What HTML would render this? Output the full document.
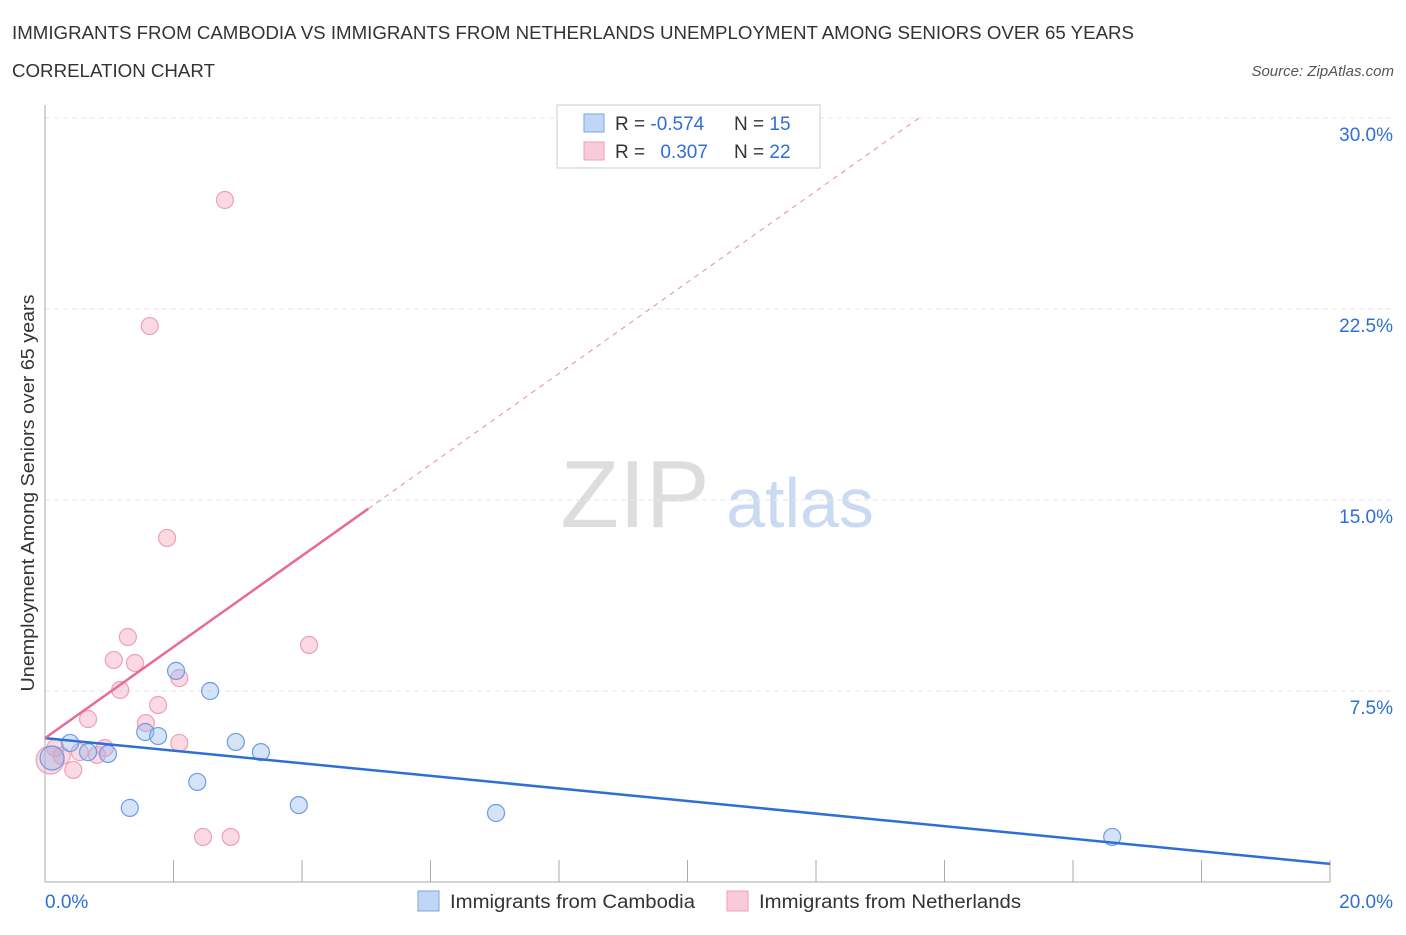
<!DOCTYPE html>
<html><head><meta charset="utf-8"><style>
body{margin:0;background:#fff;font-family:"Liberation Sans",sans-serif;}
svg text{font-family:"Liberation Sans",sans-serif;}
</style></head><body>
<svg id="chart" width="1406" height="930">
<text x="12" y="39" font-size="18" fill="#333" textLength="1122" lengthAdjust="spacingAndGlyphs">IMMIGRANTS FROM CAMBODIA VS IMMIGRANTS FROM NETHERLANDS UNEMPLOYMENT AMONG SENIORS OVER 65 YEARS</text>
<text x="12" y="77" font-size="18" fill="#333" textLength="203" lengthAdjust="spacingAndGlyphs">CORRELATION CHART</text>
<text x="1394" y="76" font-size="15" fill="#555" font-style="italic" text-anchor="end">Source: ZipAtlas.com</text>
<g>
<text x="635" y="527" font-size="96" fill="#ddd" font-family="Liberation Serif" text-anchor="middle">ZIP</text>
<text x="800" y="527" font-size="70" fill="#c9daf2" text-anchor="middle">atlas</text>
</g>
<g id="grid"></g><g id="axes"></g><g id="marks"></g>
<text x="-493" y="34" transform="rotate(-90)" font-size="18" fill="#333" text-anchor="middle" textLength="397" lengthAdjust="spacingAndGlyphs">Unemployment Among Seniors over 65 years</text>
<g>
<rect x="557" y="105" width="263" height="63" fill="#fff" stroke="#ccc"/>
<rect x="584" y="114" width="20" height="18" fill="#c0d6f5" stroke="#7aa6e6"/>
<rect x="584" y="142" width="20" height="18" fill="#f9cad8" stroke="#eda0b8"/>
<text x="615" y="130" font-size="19" fill="#333">R = <tspan fill="#2d6fd6">-0.574</tspan></text>
<text x="734" y="130" font-size="19" fill="#333">N = <tspan fill="#2d6fd6">15</tspan></text>
<text x="615" y="158" font-size="19" fill="#333">R = <tspan fill="#2d6fd6" dx="10">0.307</tspan></text>
<text x="734" y="158" font-size="19" fill="#333">N = <tspan fill="#2d6fd6">22</tspan></text>
</g>
<g>
<rect x="418" y="891" width="21" height="20" fill="#c0d6f5" stroke="#7aa6e6"/>
<text x="450" y="908" font-size="19" fill="#333" textLength="245" lengthAdjust="spacingAndGlyphs">Immigrants from Cambodia</text>
<rect x="727" y="891" width="21" height="20" fill="#f9cad8" stroke="#eda0b8"/>
<text x="759" y="908" font-size="19" fill="#333" textLength="262" lengthAdjust="spacingAndGlyphs">Immigrants from Netherlands</text>
</g>
</svg>
<script>
const yTicks=[7.5,15,22.5,30];
const yTickLabels=["7.5%","15.0%","22.5%","30.0%"];
const xTicks=[0,2,4,6,8,10,12,14,16,18,20];
const cambodiaX=[0.11,0.39,0.67,0.98,1.32,1.56,1.76,2.04,2.37,2.57,2.97,3.36,3.95,7.02,16.61];
const cambodiaY=[4.87,5.46,5.10,5.03,2.91,5.89,5.73,8.29,3.93,7.50,5.50,5.10,3.02,2.71,1.77];
const netherlandsX=[0.08,0.26,0.44,0.54,0.81,0.93,0.67,1.07,1.17,1.29,1.40,1.57,1.76,1.90,2.09,2.09,1.63,2.80,2.46,2.89,4.11,0.16];
const netherlandsY=[4.79,4.95,4.40,5.10,4.99,5.26,6.40,8.72,7.54,9.62,8.60,6.24,6.95,13.51,8.01,5.46,21.83,26.78,1.77,1.77,9.31,5.26];
const cambodiaTrend=[5.65,0.71]; // y at x=0 and x=20
const netherlandsTrend=[5.65,1.79]; // intercept, slope
const X=v=>45+v/20*1285, Y=v=>882-v/30*764;
const NS="http://www.w3.org/2000/svg";
function mk(p,t,a){const e=document.createElementNS(NS,t);for(const k in a)e.setAttribute(k,a[k]);p.appendChild(e);return e;}
const grid=document.getElementById('grid'),axes=document.getElementById('axes'),marks=document.getElementById('marks');
yTicks.forEach((v,i)=>{
 const l=mk(grid,'line',{x1:45,x2:1394,y1:Y(v),y2:Y(v),stroke:'#e6e6e6','stroke-dasharray':'5,4'});
 
 
 const t=mk(axes,'text',{x:1393,y:Y(v)+23,'font-size':19,fill:'#2d6fd6','text-anchor':'end'});
 t.textContent=yTickLabels[i];
 
 
});
const ya=mk(axes,'line',{x1:45,x2:45,y1:105,y2:882,stroke:'#aaa'});


const xa=mk(axes,'line',{x1:45,x2:1330,y1:882,y2:882,stroke:'#aaa'});


xTicks.forEach(v=>{
 const l=mk(axes,'line',{x1:X(v),x2:X(v),y1:860,y2:882,stroke:'#aaa'});
 
 
});
[["0.0%",45,'start'],["20.0%",1393,'end']].forEach(d=>{
 const t=mk(axes,'text',{x:d[1],y:908,'font-size':19,fill:'#2d6fd6','text-anchor':d[2]});
 t.textContent=d[0];
 
 
});
netherlandsX.forEach((x,i)=>{
 const c=mk(marks,'circle',{cx:X(x),cy:Y(netherlandsY[i]),r:i==0?14:8.5,fill:'rgba(244,160,186,0.4)',stroke:'#eda0b8','stroke-width':1.2});
 
 
});
cambodiaX.forEach((x,i)=>{
 const c=mk(marks,'circle',{cx:X(x),cy:Y(cambodiaY[i]),r:i==0?12:8.5,fill:'rgba(150,186,236,0.4)',stroke:'#6b9ce6','stroke-width':1.2});
 
 
});
const bt=mk(marks,'line',{x1:X(0),y1:Y(cambodiaTrend[0]),x2:X(20),y2:Y(cambodiaTrend[1]),stroke:'#2d6fd6','stroke-width':2.5});


const pf=x=>netherlandsTrend[0]+netherlandsTrend[1]*x;
const xEnd=(30-netherlandsTrend[0])/netherlandsTrend[1];
const pd=mk(marks,'line',{x1:X(5.03),y1:Y(pf(5.03)),x2:X(xEnd),y2:Y(30),stroke:'#e88aa8','stroke-width':1,'stroke-dasharray':'5,5'});


const ps=mk(marks,'line',{x1:X(0),y1:Y(pf(0)),x2:X(5.03),y2:Y(pf(5.03)),stroke:'#e86a96','stroke-width':2.5});


</script>
</body></html>
